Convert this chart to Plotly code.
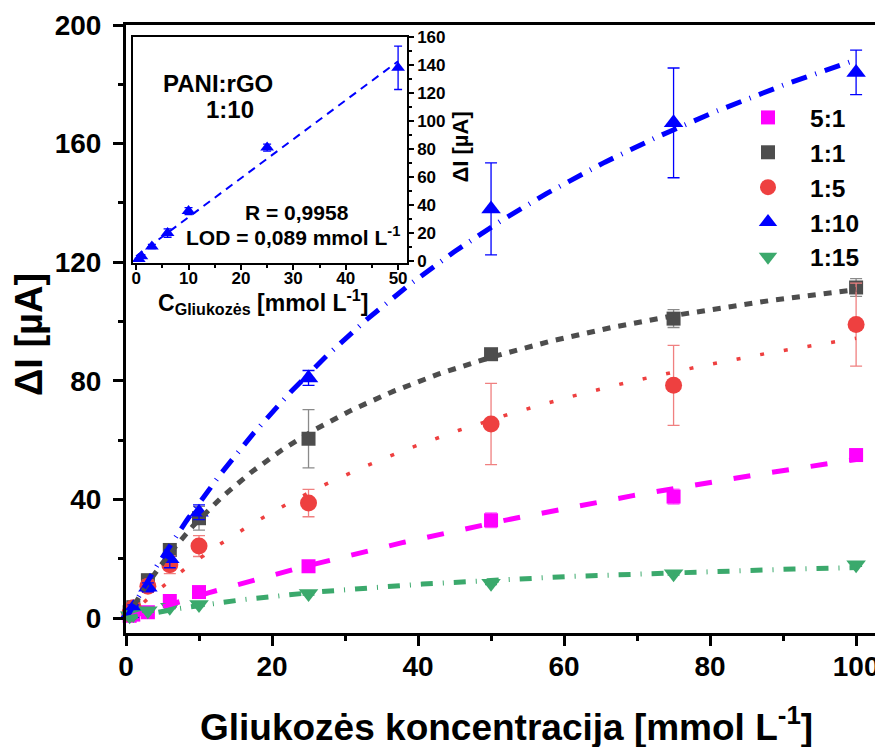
import numpy as np
import plotly.graph_objects as go

# ---------------- data ----------------
conc = [0.5, 1, 3, 6, 10, 25, 50, 75, 100]
series_names = ["5:1", "1:1", "1:5", "1:10", "1:15"]
r51 = [0.8, 1.2, 2.0, 5.8, 8.8, 17.5, 33, 41, 55]
r11 = [2.0, 3.7, 12.8, 23, 33.7, 60.5, 89, 101, 111.5]
r15 = [1.5, 3.5, 10.8, 18, 24.3, 38.8, 65.5, 78.5, 99]
r110 = [1.5, 3.5, 10.4, 20, 35.7, 81, 138, 167, 184]
r115 = [0.8, 1.2, 2.5, 3.7, 4.6, 8.3, 11.8, 15, 18]

e51 = [0.3, 0.5, 0.5, 1, 1, 1, 2.5, 2.5, 1.5]
e11 = [0.5, 1, 2, 2, 4, 9.8, 1, 3, 3]
e15 = [0.5, 1, 2, 3, 3.5, 4.6, 13.7, 13.5, 14]
e110 = [0.5, 1, 1.5, 3, 2.5, 2.5, 15.5, 18.5, 7.5]
e115 = [0.3, 0.3, 0.5, 0.5, 0.5, 0.5, 0.5, 0.5, 0.5]

inset_n = 7  # inset uses the 1:10 points up to 50 mmol/L
main_tick_x = [0, 20, 40, 60, 80, 100]
main_tick_y = [0, 40, 80, 120, 160, 200]
inset_tick_x = [0, 10, 20, 30, 40, 50]
inset_tick_y = [0, 20, 40, 60, 80, 100, 120, 140, 160]

colors = ["#FF00FF", "#4D4D4D", "#EE4040", "#0000FF", "#3BA96C"]
err_colors = ["#FF66FF", "#8A8A8A", "#F08080", "#0000FF", "#3BA96C"]
symbols = ["square", "square", "circle", "triangle-up", "triangle-down"]
msizes = [14, 14, 17, 17, 17]
dashes = ["17px,22px", "8px,8px", "4px,20px", "16px,9px,1px,9px", "12px,10px,1px,10px"]
lwidths = [5, 5, 3.5, 5, 5]

ys = [r51, r11, r15, r110, r115]
es = [e51, e11, e15, e110, e115]

FONT = "Liberation Sans"

# ---------------- figure geometry ----------------
# the page body has an 8px default margin, so figure coords = screen coords - 8
OFF = 8
W, H = 883, 747
L, R, T, B = 118, 13, 17, 122
PW, PH = W - L - R, H - T - B


def px(xs):
    return (xs - OFF - L) / PW


def py(ys_):
    return (H - B - (ys_ - OFF)) / PH


def mm_fit(x, y):
    """least-squares saturation fit  y = Vmax*x/(Km+x)"""
    x = np.asarray(x, float)
    y = np.asarray(y, float)
    best = None
    for km in np.linspace(1, 2000, 8000):
        f = x / (km + x)
        v = (f @ y) / (f @ f)
        sse = np.sum((y - v * f) ** 2)
        if best is None or sse < best[0]:
            best = (sse, v, km)
    return best[1], best[2]


fig = go.Figure()

# markers with error bars
for i in range(5):
    fig.add_trace(go.Scatter(
        x=conc, y=ys[i], mode="markers", name=series_names[i],
        marker=dict(symbol=symbols[i], size=msizes[i], color=colors[i], line=dict(width=0)),
        error_y=dict(type="data", array=es[i], color=err_colors[i], thickness=1.3, width=6),
        cliponaxis=False, xaxis="x", yaxis="y"))

# fitted curves
xf = np.linspace(0, 100, 400)
for i in range(5):
    v, km = mm_fit(conc, ys[i])
    fig.add_trace(go.Scatter(
        x=xf, y=v * xf / (km + xf), mode="lines", showlegend=False,
        line=dict(color=colors[i], width=lwidths[i], dash=dashes[i]),
        xaxis="x", yaxis="y"))

# inset
xi = conc[:inset_n]
yi = r110[:inset_n]
ei = e110[:inset_n]
slope, icpt = np.polyfit(xi, yi, 1)
xl = np.linspace(0, 50, 50)
fig.add_trace(go.Scatter(
    x=xl, y=slope * xl + icpt, mode="lines", showlegend=False,
    line=dict(color="#0000FF", width=2, dash="8px,6px"), xaxis="x2", yaxis="y2"))
fig.add_trace(go.Scatter(
    x=xi, y=yi, mode="markers", showlegend=False,
    marker=dict(symbol="triangle-up", size=12, color="#0000FF"),
    error_y=dict(type="data", array=ei, color="#0000FF", thickness=1.3, width=4),
    cliponaxis=False, xaxis="x2", yaxis="y2"))

tick_font = dict(family=FONT, size=28, color="black", weight="bold")
inset_tick_font = dict(family=FONT, size=17, color="black", weight="bold")

fig.update_layout(
    width=W, height=H,
    margin=dict(l=L, r=R, t=T, b=B, autoexpand=False),
    paper_bgcolor="white", plot_bgcolor="white",
    font=dict(family=FONT, color="black"),
    xaxis=dict(
        domain=[0, 1], range=[0, 103], tickvals=main_tick_x, automargin=False,
        showgrid=False, zeroline=False, showline=True, linewidth=3, linecolor="black",
        mirror=True, ticks="outside", ticklen=10, tickwidth=3, tickcolor="black",
        tickfont=tick_font, ticklabelstandoff=-4,
        minor=dict(dtick=10, tick0=0, ticks="outside", ticklen=5, tickwidth=3, tickcolor="black")),
    yaxis=dict(
        domain=[0, 1], range=[-5, 200], tickvals=main_tick_y, automargin=False,
        showgrid=False, zeroline=False, showline=True, linewidth=3, linecolor="black",
        mirror=True, ticks="outside", ticklen=10, tickwidth=3, tickcolor="black",
        tickfont=tick_font, ticklabelstandoff=6,
        minor=dict(dtick=20, tick0=0, ticks="outside", ticklen=5, tickwidth=3, tickcolor="black")),
    xaxis2=dict(
        domain=[px(133), px(407)], anchor="y2", range=[-0.6, 51.7], tickvals=inset_tick_x,
        automargin=False,
        showgrid=False, zeroline=False, showline=True, linewidth=1.5, linecolor="black",
        mirror=True, ticks="outside", ticklen=5, tickwidth=1.5, tickcolor="black",
        tickfont=inset_tick_font, ticklabelstandoff=-6,
        minor=dict(dtick=5, tick0=0, ticks="outside", ticklen=3, tickwidth=1.5, tickcolor="black")),
    yaxis2=dict(
        domain=[py(263), py(37)], anchor="x2", side="right", range=[-1.4, 160], tickvals=inset_tick_y,
        automargin=False,
        showgrid=False, zeroline=False, showline=True, linewidth=1.5, linecolor="black",
        mirror=True, ticks="outside", ticklen=5, tickwidth=1.5, tickcolor="black",
        tickfont=inset_tick_font, ticklabelstandoff=0,
        minor=dict(dtick=10, tick0=0, ticks="outside", ticklen=3, tickwidth=1.5, tickcolor="black")),
    legend=dict(
        x=px(726), y=py(95), xanchor="left", yanchor="top",
        bgcolor="rgba(0,0,0,0)", borderwidth=0,
        font=dict(family=FONT, size=24.5, color="black", weight="bold"),
        tracegroupgap=0, itemwidth=74),
    showlegend=True,
)

ann = [
    dict(text="<b>PANI:rGO</b>", x=px(217.5), y=py(84), size=24),
    dict(text="<b>1:10</b>", x=px(230), y=py(109), size=24),
    dict(text="<b>R = 0,9958</b>", x=px(296.7), y=py(212.7), size=21),
    dict(text="<b>LOD = 0,089 mmol L<sup>-1</sup></b>", x=px(292.5), y=py(236), size=21),
    dict(text="<b>C<sub>Gliukozės</sub> [mmol L<sup>-1</sup>]</b>", x=px(262.5), y=py(302), size=23),
    dict(text="<b>ΔI [µA]</b>", x=px(460), y=py(147.5), size=22, angle=-90),
    dict(text="<b>Gliukozės koncentracija [mmol L<sup>-1</sup>]</b>", x=px(506), y=py(724), size=37),
    dict(text="<b>ΔI [µA]</b>", x=px(29), y=py(335), size=38, angle=-90),
]
for a in ann:
    fig.add_annotation(
        text=a["text"], x=a["x"], y=a["y"], xref="paper", yref="paper",
        xanchor="center", yanchor="middle", showarrow=False,
        textangle=a.get("angle", 0),
        font=dict(family=FONT, size=a["size"], color="black"))

fig.write_html("out.html")
